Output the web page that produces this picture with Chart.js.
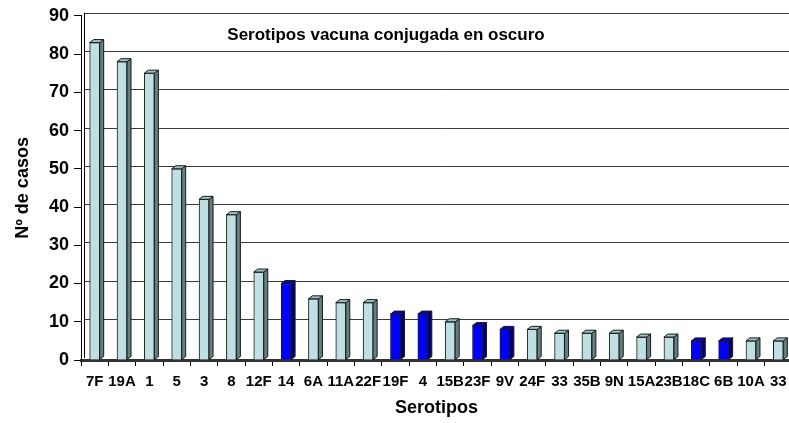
<!DOCTYPE html>
<html>
<head>
<meta charset="utf-8">
<script src="https://cdn.jsdelivr.net/npm/chart.js@4.4.1/dist/chart.umd.min.js"></script>
<style>
	html, body { margin: 0; padding: 0; background: #fff; overflow: hidden; }
	#wrap { width: 800px; height: 423px; }
</style>
</head>
<body>
<div id="wrap"><canvas id="myChart" width="800" height="423"></canvas></div>
<script>

	var serotypes = ['7F', '19A', '1', '5', '3', '8', '12F', '14', '6A', '11A', '22F', '19F', '4',
		'15B', '23F', '9V', '24F', '33', '35B', '9N', '15A', '23B', '18C', '6B', '10A', '33'];

	var cases = [83, 78, 75, 50, 42, 38, 23, 20, 16, 15, 15, 12, 12,
		10, 9, 8, 8, 7, 7, 7, 6, 6, 5, 5, 5, 5];

	// serotipos de la vacuna conjugada (van en oscuro)
	var vaccineSerotypes = ['4', '6B', '9V', '14', '18C', '19F', '23F'];

	var yTicks = [0, 10, 20, 30, 40, 50, 60, 70, 80, 90];

	var FONT = 'Liberation Sans, Arial, sans-serif';

	function isVaccine(i){
		return vaccineSerotypes.indexOf(serotypes[i]) >= 0;
	}

	var frontColors = cases.map(function(v, i){ return isVaccine(i) ? '#0000ff' : '#bfe0e3'; });
	var sideColors = cases.map(function(v, i){ return isVaccine(i) ? '#00007a' : '#647f82'; });
	var topColors = cases.map(function(v, i){ return isVaccine(i) ? '#0000c8' : '#9fc3c6'; });

	var DX = 4, DY = -3;

	// back wall, shifted gridlines and 3D faces of the bars
	var threeD = {
		id: 'threeD',
		beforeDatasetsDraw: function(chart){
			var ctx = chart.ctx, area = chart.chartArea, y = chart.scales.y;
			ctx.save();
			ctx.strokeStyle = '#3a3a3a';
			ctx.lineWidth = 1;
			yTicks.forEach(function(t){
				if (t === 0) return;
				var py = Math.round(y.getPixelForValue(t) + DY) + 0.5;
				ctx.beginPath();
				ctx.moveTo(area.left + 3, py);
				ctx.lineTo(area.right + 10, py);
				ctx.stroke();
			});
			ctx.strokeStyle = '#000';
			ctx.beginPath();
			ctx.moveTo(area.left + 3.5, y.getPixelForValue(90) + DY);
			ctx.lineTo(area.left + 3.5, area.bottom - 2);
			ctx.stroke();
			ctx.restore();
		},
		afterDatasetsDraw: function(chart){
			var ctx = chart.ctx;
			var meta = chart.getDatasetMeta(0);
			ctx.save();
			ctx.strokeStyle = '#1a1a1a';
			ctx.lineWidth = 1;
			meta.data.forEach(function(el, i){
				var l = el.x - el.width / 2, r = el.x + el.width / 2, t = el.y, b = el.base;
				ctx.fillStyle = sideColors[i];
				ctx.beginPath();
				ctx.moveTo(r, t);
				ctx.lineTo(r + DX, t + DY);
				ctx.lineTo(r + DX, b + DY);
				ctx.lineTo(r, b);
				ctx.closePath();
				ctx.fill();
				ctx.stroke();
				ctx.fillStyle = topColors[i];
				ctx.beginPath();
				ctx.moveTo(l, t);
				ctx.lineTo(l + DX, t + DY);
				ctx.lineTo(r + DX, t + DY);
				ctx.lineTo(r, t);
				ctx.closePath();
				ctx.fill();
				ctx.stroke();
			});
			// leyenda en el grafico
			ctx.fillStyle = '#000';
			ctx.font = 'bold 17px ' + FONT;
			ctx.textAlign = 'center';
			ctx.textBaseline = 'alphabetic';
			ctx.fillText('Serotipos vacuna conjugada en oscuro', 386, 40);
			ctx.restore();
		}
	};

	var ctx = document.getElementById('myChart').getContext('2d');
	var chartObj = {
		type: 'bar',
		data: {
			labels: serotypes,
			datasets: [{
				label: 'Nº de casos',
				data: cases,
				backgroundColor: frontColors,
				borderColor: '#1a1a1a',
				borderWidth: 1,
				barThickness: 10
			}]
		},
		options: {
			responsive: false,
			animation: false,
			devicePixelRatio: 1,
			layout: { padding: { left: 0, right: 8, top: 14, bottom: 0 } },
			plugins: {
				legend: { display: false },
				tooltip: { enabled: false }
			},
			scales: {
				x: {
					offset: true,
					border: { color: '#333', width: 3 },
					grid: { display: true, drawOnChartArea: false, drawTicks: true, tickLength: 6, offset: true, color: '#000' },
					ticks: { autoSkip: false, maxRotation: 0, minRotation: 0, padding: 7, color: '#000',
						font: { family: FONT, size: 15, weight: 'bold' } },
					title: { display: true, text: 'Serotipos', color: '#000', padding: { top: 0, bottom: 4 },
						font: { family: FONT, size: 18, weight: 'bold' } },
					afterFit: function(s){ s.height = 63; }
				},
				y: {
					min: 0,
					max: 90,
					border: { color: '#000', width: 1 },
					grid: { drawOnChartArea: false, drawTicks: true, tickLength: 7, color: '#000' },
					ticks: { stepSize: 10, padding: 5, color: '#000',
						font: { family: FONT, size: 18, weight: 'bold' } },
					title: { display: true, text: 'Nº de casos', color: '#000', padding: { top: 12, bottom: 0 },
						font: { family: FONT, size: 18, weight: 'bold' } },
					afterFit: function(s){ s.width = 81; }
				}
			}
		},
		plugins: [threeD]
	};

	var chart = new Chart(ctx, chartObj);

</script>
</body>
</html>
